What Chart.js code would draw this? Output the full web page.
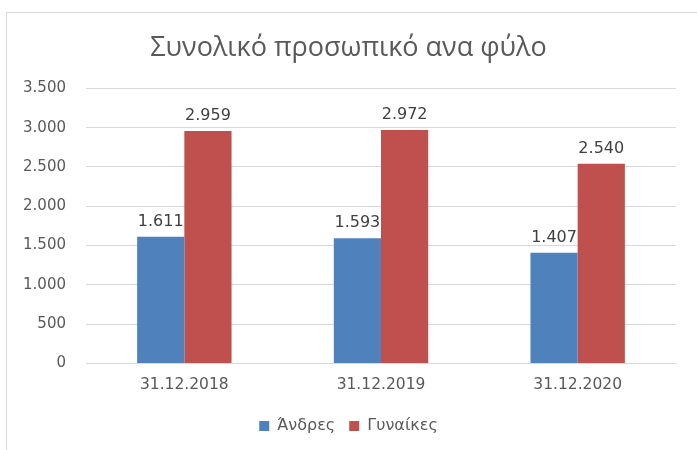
<!DOCTYPE html>
<html>
<head>
<meta charset="utf-8">
<script src="https://cdn.jsdelivr.net/npm/chart.js@4"></script>
<style>
  body { margin: 0; background: #fff; }
  #wrap { position: relative; width: 697px; height: 450px; }
  #frame { position: absolute; left: 6px; top: 12px; width: 720px; height: 460px; border: 1px solid #d9d9d9; }
  canvas { position: absolute; left: 0; top: 0; }
</style>
</head>
<body>
<div id="wrap">
  <div id="frame"></div>
  <canvas id="chart" width="697" height="450"></canvas>
</div>
<script>
// Données
const categories = ['31.12.2018', '31.12.2019', '31.12.2020'];
const andres = [1611, 1593, 1407];
const gynaikes = [2959, 2972, 2540];
const yTicks = [0, 500, 1000, 1500, 2000, 2500, 3000, 3500];

// format 1.611
function fmt(v) {
    return String(v).replace(/\B(?=(\d{3})+(?!\d))/g, '.');
}

// étiquettes au-dessus des barres
const valueLabels = {
    id: 'valueLabels',
    afterDatasetsDraw(chart) {
        const ctx = chart.ctx;
        ctx.save();
        ctx.font = '16px "DejaVu Sans"';
        ctx.fillStyle = '#404040';
        ctx.textAlign = 'center';
        ctx.textBaseline = 'bottom';
        chart.data.datasets.forEach((ds, i) => {
            chart.getDatasetMeta(i).data.forEach((bar, j) => {
                ctx.fillText(fmt(ds.data[j]), bar.x, bar.y - 7);
            });
        });
        ctx.restore();
    }
};

const ctx = document.getElementById('chart').getContext('2d');
new Chart(ctx, {
    type: 'bar',
    data: {
        labels: categories,
        datasets: [
            { label: 'Άνδρες', data: andres, backgroundColor: '#4F81BD' },
            { label: 'Γυναίκες', data: gynaikes, backgroundColor: '#C0504D' }
        ]
    },
    options: {
        responsive: false,
        animation: false,
        barPercentage: 1,
        categoryPercentage: 0.48,
        layout: { padding: { left: 0, right: 0, top: 0, bottom: 6 } },
        plugins: {
            title: {
                display: true,
                text: 'Συνολικό προσωπικό ανα φύλο',
                color: '#595959',
                font: { family: 'Open Sans', size: 27, weight: 'normal' },
                padding: { top: 32, bottom: 24 }
            },
            legend: {
                position: 'bottom',
                labels: {
                    color: '#595959',
                    font: { family: 'DejaVu Sans', size: 16 },
                    boxWidth: 10,
                    boxHeight: 10,
                    padding: 14
                }
            },
            tooltip: { enabled: false }
        },
        scales: {
            x: {
                afterFit(scale) { scale.height += 6; },
                grid: { display: false },
                border: { display: true, color: '#d9d9d9' },
                ticks: { color: '#595959', font: { family: 'DejaVu Sans', size: 15.5 }, padding: 4 }
            },
            y: {
                min: 0,
                max: 3500,
                afterFit(scale) { scale.width = 86; },
                afterBuildTicks(scale) { scale.ticks = yTicks.map(v => ({ value: v })); },
                grid: { color: '#d9d9d9', drawTicks: false },
                border: { display: false },
                ticks: {
                    color: '#595959',
                    font: { family: 'DejaVu Sans', size: 15 },
                    padding: 20,
                    callback: v => fmt(v)
                }
            },
            // marge droite, pour centrer le titre sur toute la largeur
            yRight: {
                position: 'right',
                min: 0,
                max: 3500,
                afterFit(scale) { scale.width = 21; },
                grid: { display: false },
                border: { display: false },
                ticks: { display: false }
            }
        }
    },
    plugins: [valueLabels]
});
</script>
</body>
</html>
